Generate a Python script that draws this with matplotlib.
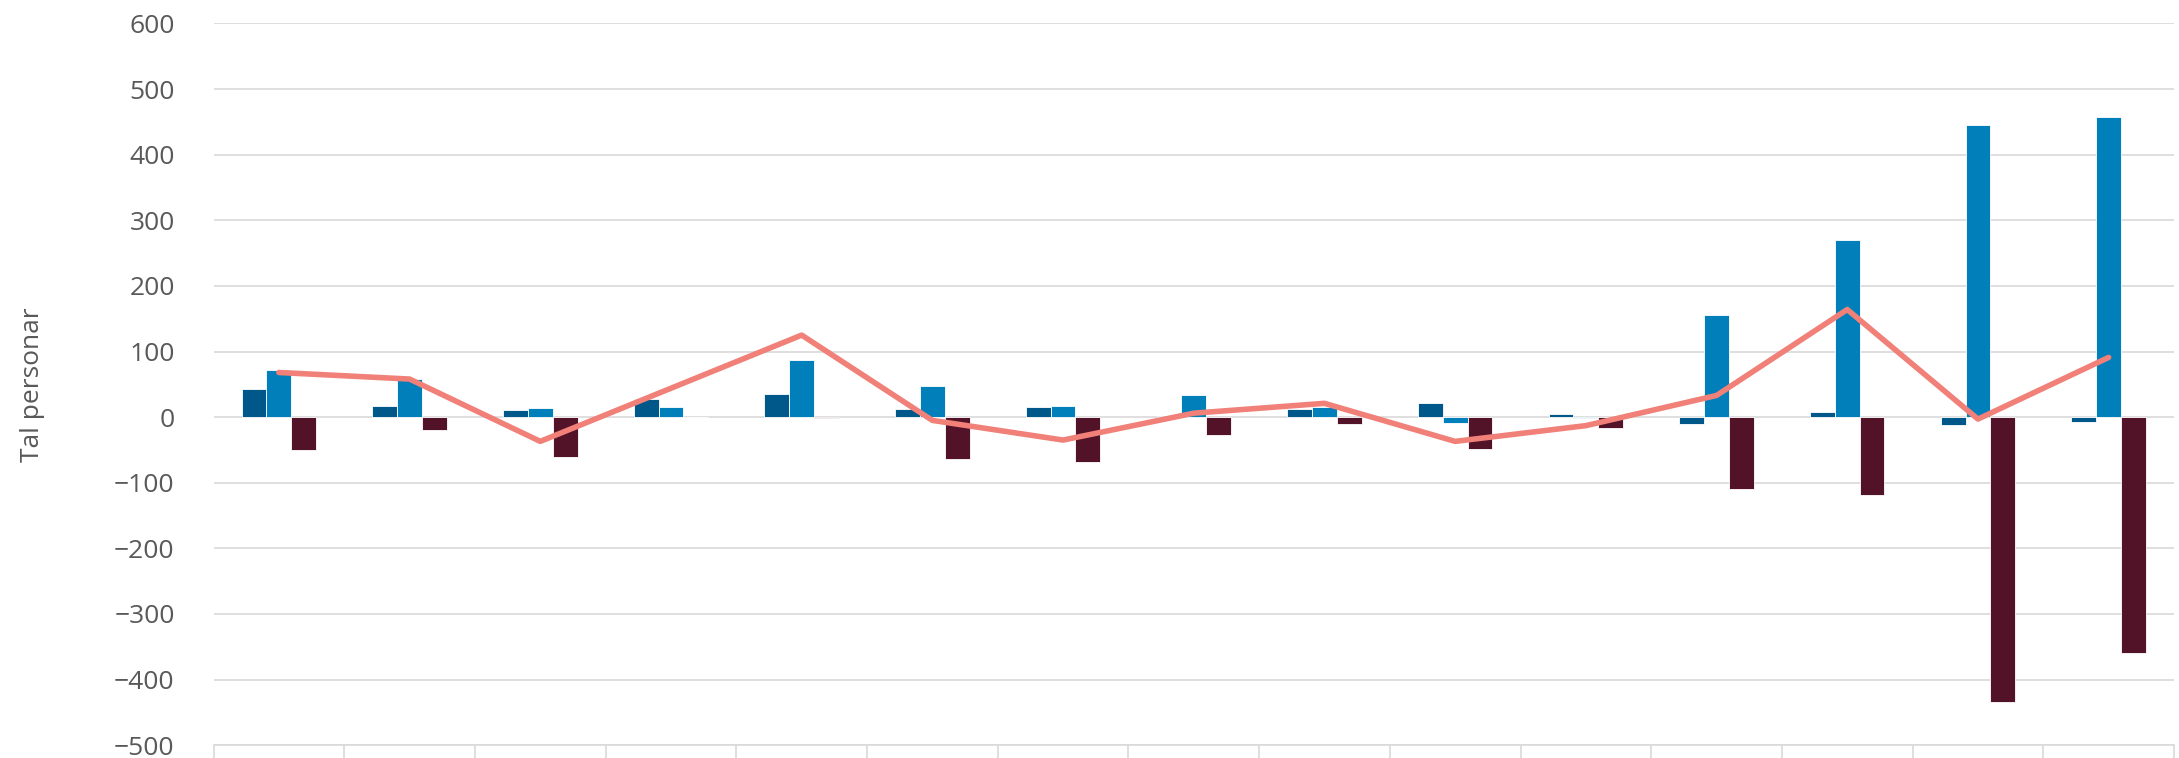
import numpy as np
import matplotlib.pyplot as plt

# 15 grupper, ingen kategorietikett synleg
grupper = list(range(1, 16))
serie_a = [43, 17, 11, 28, 35, 13, 15, 1, 12, 21, 4, -10, 8, -12, -7]
serie_b = [72, 58, 14, 15, 87, 47, 17, 34, 15, -9, -1, 156, 270, 445, 458]
serie_c = [-50, -20, -61, 0, -1, -64, -68, -27, -10, -48, -17, -110, -118, -434, -360]
netto = [68, 58, -37, 44, 125, -5, -35, 6, 21, -37, -13, 33, 164, -3, 91]

plt.rcParams['font.family'] = ['Open Sans', 'DejaVu Sans']

fig = plt.figure(figsize=(21.79, 7.58), dpi=100)
ax = fig.add_axes([0.098, 0.017, 0.8997, 0.952])

x = np.arange(len(grupper))
w = 0.19
ax.bar(x - w, serie_a, w, color="#00578a", edgecolor="white", linewidth=0.6, zorder=2)
ax.bar(x, serie_b, w, color="#007fba", edgecolor="white", linewidth=0.6, zorder=2)
ax.bar(x + w, serie_c, w, color="#521227", edgecolor="white", linewidth=0.6, zorder=2)
ax.plot(x, netto, color="#f08078", linewidth=4, solid_capstyle="round", zorder=3)

ax.set_xlim(-0.5, len(grupper) - 0.5)
ax.set_ylim(-500, 600)
ax.set_yticks(range(-500, 601, 100))
ax.set_xticks(np.arange(-0.5, len(grupper), 1.0))
ax.set_xticklabels([])
ax.tick_params(axis="x", length=12, color="#d9d9d9", width=1.2)
ax.tick_params(axis="y", length=0, pad=28, labelsize=19, labelcolor="#595959")
ax.grid(axis="y", color="#d9d9d9", linewidth=1.2, zorder=0)
for s in ["top", "right", "left"]:
    ax.spines[s].set_visible(False)
ax.spines["bottom"].set_color("#d9d9d9")
ax.spines["bottom"].set_linewidth(1.2)
ax.set_ylabel("Tal personar", fontsize=19, color="#595959", labelpad=50)

fig.savefig("out.png", dpi=100)
